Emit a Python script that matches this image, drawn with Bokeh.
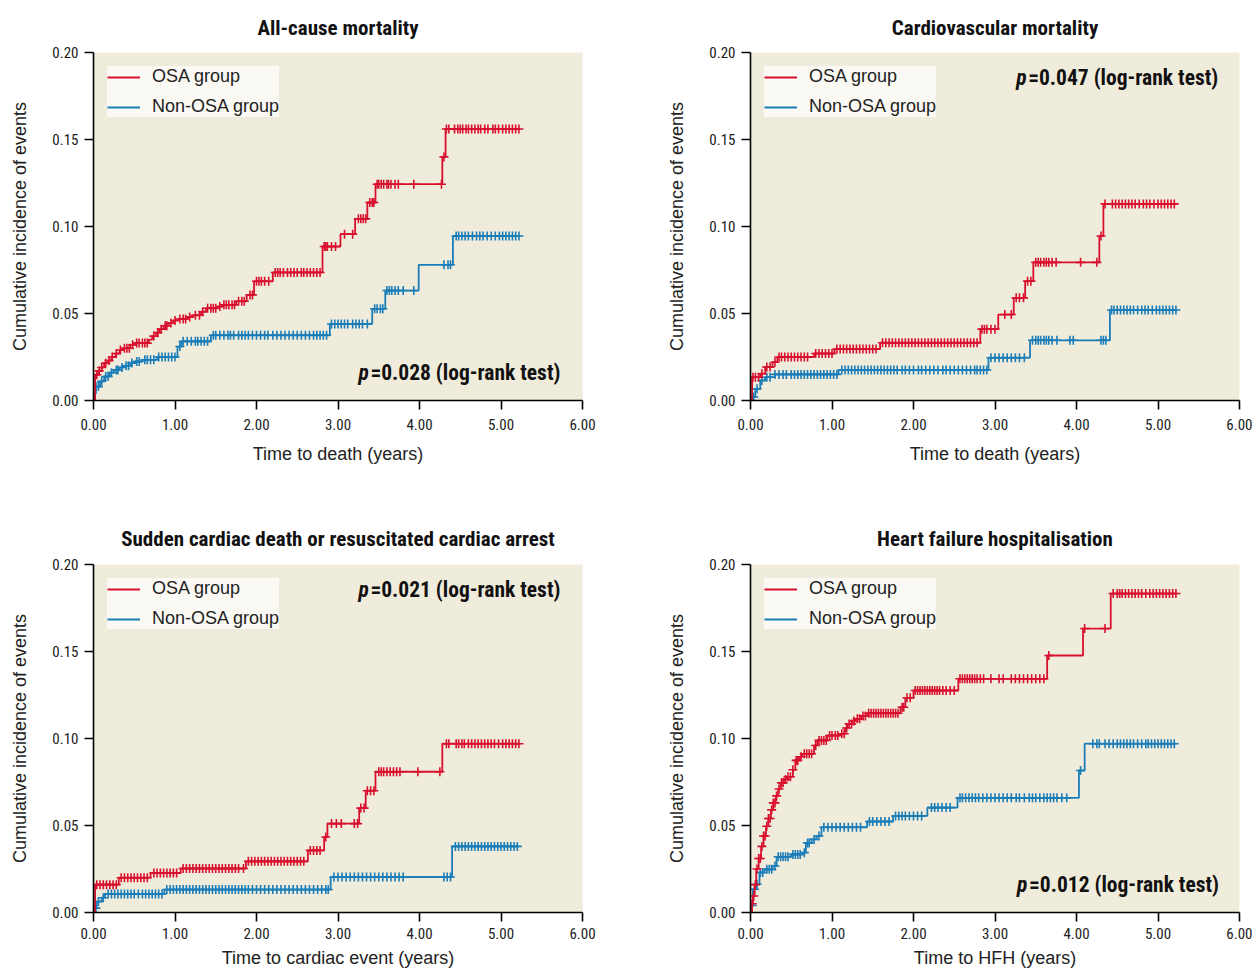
import numpy as np
from bokeh.plotting import figure
from bokeh.models import Range1d, FixedTicker, NumeralTickFormatter, Legend, LegendItem, Label
from bokeh.layouts import column, row
from bokeh.embed import file_html
from bokeh.resources import INLINE

# ---------------- DATA ----------------
titles = ["All-cause mortality", "Cardiovascular mortality",
          "Sudden cardiac death or resuscitated cardiac arrest", "Heart failure hospitalisation"]
xlabels = ["Time to death (years)", "Time to death (years)",
           "Time to cardiac event (years)", "Time to HFH (years)"]
ylabel = "Cumulative incidence of events"
series_names = ["OSA group", "Non-OSA group"]
pvalues = ["=0.028 (log-rank test)", "=0.047 (log-rank test)",
           "=0.021 (log-rank test)", "=0.012 (log-rank test)"]
x_ticks = [0, 1, 2, 3, 4, 5, 6]
y_ticks = [0.0, 0.05, 0.10, 0.15, 0.20]

# All-cause mortality
acm_osa_t = [0, 0.02, 0.06, 0.10, 0.13, 0.18, 0.22, 0.27, 0.32, 0.37, 0.45, 0.52, 0.68, 0.72, 0.77, 0.81, 0.86,
             0.92, 0.98, 1.04, 1.15, 1.22, 1.32, 1.38, 1.52, 1.58, 1.75, 1.88, 1.97, 2.20, 2.81, 3.03, 3.21,
             3.36, 3.46, 4.28, 4.32, 5.22]
acm_osa_v = [0, 0.0148, 0.017, 0.019, 0.0215, 0.023, 0.025, 0.027, 0.029, 0.030, 0.032, 0.033, 0.035, 0.037,
             0.039, 0.041, 0.043, 0.0445, 0.046, 0.0468, 0.048, 0.049, 0.051, 0.053, 0.054, 0.055, 0.057, 0.0607,
             0.0685, 0.0736, 0.0885, 0.0956, 0.1044, 0.1138, 0.1243, 0.140, 0.156, 0.156]
acm_osa_c = [0.04, 0.07, 0.1, 0.15, 0.19, 0.23, 0.28, 0.33, 0.38, 0.41, 0.44, 0.48, 0.53, 0.56, 0.6, 0.63, 0.66,
             0.74, 0.79, 0.83, 0.88, 0.9, 0.95, 1.0, 1.06, 1.1, 1.13, 1.18, 1.25, 1.3, 1.34, 1.4, 1.44, 1.47, 1.5,
             1.55, 1.6, 1.63, 1.66, 1.7, 1.73, 1.78, 1.82, 1.85, 1.92, 1.95, 2.0, 2.03, 2.06, 2.1, 2.15, 2.23,
             2.26, 2.29, 2.33, 2.38, 2.42, 2.46, 2.5, 2.55, 2.58, 2.62, 2.66, 2.7, 2.74, 2.78, 2.83, 2.85, 2.87,
             2.92, 2.97, 3.08, 3.18, 3.25, 3.28, 3.31, 3.34, 3.39, 3.42, 3.44, 3.48, 3.5, 3.53, 3.56, 3.6, 3.62,
             3.65, 3.7, 3.74, 3.93, 4.27, 4.3, 4.33, 4.36, 4.43, 4.47, 4.5, 4.53, 4.57, 4.6, 4.64, 4.68, 4.72,
             4.75, 4.8, 4.84, 4.9, 4.93, 4.97, 5.02, 5.06, 5.1, 5.14, 5.18, 5.22]
acm_non_t = [0, 0.01, 0.03, 0.08, 0.13, 0.20, 0.25, 0.32, 0.37, 0.45, 0.50, 0.60, 0.78, 1.03, 1.08, 1.44, 2.90,
             3.42, 3.58, 3.99, 4.41, 5.22]
acm_non_v = [0, 0.004, 0.008, 0.011, 0.0138, 0.016, 0.0176, 0.019, 0.020, 0.0215, 0.0224, 0.0234, 0.025, 0.031,
             0.034, 0.0375, 0.044, 0.0527, 0.0632, 0.078, 0.0945, 0.0945]
acm_non_c = [0.03, 0.06, 0.1, 0.15, 0.18, 0.22, 0.28, 0.3, 0.35, 0.4, 0.43, 0.47, 0.53, 0.56, 0.63, 0.66, 0.7,
             0.74, 0.8, 0.84, 0.88, 0.92, 0.96, 1.0, 1.06, 1.1, 1.15, 1.2, 1.25, 1.28, 1.32, 1.36, 1.4, 1.47, 1.5,
             1.55, 1.6, 1.65, 1.68, 1.72, 1.78, 1.82, 1.86, 1.9, 1.95, 2.0, 2.05, 2.1, 2.14, 2.2, 2.25, 2.3, 2.35,
             2.4, 2.45, 2.5, 2.55, 2.6, 2.65, 2.7, 2.74, 2.78, 2.82, 2.86, 2.92, 2.96, 3.0, 3.04, 3.08, 3.12, 3.18,
             3.22, 3.26, 3.3, 3.36, 3.45, 3.48, 3.52, 3.55, 3.6, 3.63, 3.66, 3.7, 3.74, 3.8, 3.93, 4.3, 4.35, 4.38,
             4.45, 4.48, 4.52, 4.56, 4.6, 4.65, 4.7, 4.74, 4.78, 4.83, 4.88, 4.93, 4.98, 5.02, 5.06, 5.1, 5.14,
             5.18, 5.22]

# Cardiovascular mortality
cvm_osa_t = [0, 0.02, 0.12, 0.18, 0.27, 0.33, 0.78, 1.03, 1.59, 2.82, 3.04, 3.23, 3.37, 3.47, 4.28, 4.33, 5.23]
cvm_osa_v = [0, 0.0134, 0.0154, 0.0192, 0.022, 0.025, 0.027, 0.0296, 0.0332, 0.041, 0.0494, 0.059, 0.0686,
             0.0794, 0.0945, 0.113, 0.113]
cvm_osa_c = [0.03, 0.06, 0.1, 0.14, 0.2, 0.24, 0.3, 0.35, 0.38, 0.42, 0.46, 0.5, 0.54, 0.58, 0.62, 0.66, 0.7,
             0.8, 0.84, 0.88, 0.92, 0.96, 1.0, 1.06, 1.1, 1.14, 1.18, 1.22, 1.26, 1.3, 1.34, 1.38, 1.42, 1.46, 1.5,
             1.54, 1.62, 1.66, 1.7, 1.74, 1.78, 1.82, 1.86, 1.9, 1.94, 1.98, 2.02, 2.06, 2.1, 2.14, 2.18, 2.22,
             2.26, 2.3, 2.34, 2.38, 2.42, 2.46, 2.5, 2.54, 2.58, 2.62, 2.66, 2.7, 2.74, 2.78, 2.84, 2.87, 2.9,
             2.95, 3.0, 3.12, 3.2, 3.26, 3.3, 3.35, 3.4, 3.44, 3.5, 3.53, 3.56, 3.6, 3.63, 3.66, 3.7, 3.75, 4.05,
             4.25, 4.3, 4.35, 4.44, 4.48, 4.52, 4.56, 4.6, 4.64, 4.68, 4.72, 4.77, 4.82, 4.86, 4.9, 4.95, 5.0,
             5.04, 5.08, 5.12, 5.16, 5.2]
cvm_non_t = [0, 0.02, 0.06, 0.12, 0.18, 0.30, 1.08, 2.92, 3.43, 4.41, 5.23]
cvm_non_v = [0, 0.002, 0.0067, 0.0115, 0.0134, 0.015, 0.0175, 0.0246, 0.0346, 0.052, 0.052]
cvm_non_c = [0.04, 0.08, 0.14, 0.2, 0.24, 0.3, 0.35, 0.4, 0.44, 0.5, 0.54, 0.58, 0.62, 0.66, 0.7, 0.74, 0.78,
             0.82, 0.86, 0.9, 0.94, 0.98, 1.02, 1.06, 1.12, 1.16, 1.2, 1.24, 1.28, 1.32, 1.36, 1.4, 1.44, 1.48,
             1.52, 1.56, 1.6, 1.64, 1.68, 1.72, 1.76, 1.8, 1.86, 1.9, 1.95, 2.0, 2.06, 2.1, 2.15, 2.2, 2.25, 2.3,
             2.36, 2.4, 2.45, 2.5, 2.55, 2.6, 2.65, 2.7, 2.75, 2.78, 2.82, 2.86, 2.9, 2.95, 3.0, 3.05, 3.1, 3.15,
             3.2, 3.25, 3.3, 3.36, 3.46, 3.5, 3.53, 3.56, 3.6, 3.63, 3.66, 3.7, 3.76, 3.92, 3.96, 4.3, 4.33, 4.36,
             4.43, 4.46, 4.5, 4.54, 4.58, 4.62, 4.66, 4.7, 4.75, 4.8, 4.84, 4.88, 4.93, 4.98, 5.02, 5.06, 5.1,
             5.14, 5.18, 5.22]

# Sudden cardiac death or resuscitated cardiac arrest
scd_osa_t = [0, 0.02, 0.31, 0.70, 1.07, 1.87, 2.63, 2.83, 2.87, 3.26, 3.34, 3.46, 4.28, 5.22]
scd_osa_v = [0, 0.016, 0.020, 0.0227, 0.0253, 0.0294, 0.0357, 0.0434, 0.0511, 0.060, 0.070, 0.0809, 0.097, 0.097]
scd_osa_c = [0.04, 0.08, 0.12, 0.16, 0.2, 0.24, 0.28, 0.34, 0.38, 0.42, 0.46, 0.5, 0.54, 0.58, 0.62, 0.66, 0.74,
             0.78, 0.82, 0.86, 0.9, 0.94, 0.98, 1.02, 1.1, 1.14, 1.18, 1.22, 1.26, 1.3, 1.34, 1.38, 1.42, 1.46,
             1.5, 1.54, 1.58, 1.62, 1.66, 1.7, 1.74, 1.78, 1.84, 1.9, 1.94, 1.98, 2.02, 2.06, 2.1, 2.14, 2.18,
             2.22, 2.26, 2.3, 2.34, 2.38, 2.42, 2.46, 2.5, 2.54, 2.58, 2.66, 2.7, 2.74, 2.78, 2.85, 2.92, 2.98,
             3.04, 3.2, 3.24, 3.28, 3.32, 3.36, 3.4, 3.44, 3.5, 3.53, 3.56, 3.6, 3.64, 3.68, 3.72, 3.76, 3.98,
             4.25, 4.33, 4.36, 4.45, 4.48, 4.52, 4.55, 4.6, 4.64, 4.68, 4.72, 4.76, 4.8, 4.84, 4.88, 4.92, 4.97,
             5.02, 5.06, 5.1, 5.14, 5.18, 5.22]
scd_non_t = [0, 0.02, 0.04, 0.10, 0.14, 0.87, 2.91, 4.40, 5.22]
scd_non_v = [0, 0.0025, 0.0063, 0.0085, 0.0107, 0.0132, 0.0204, 0.038, 0.038]
scd_non_c = [0.03, 0.06, 0.12, 0.18, 0.22, 0.26, 0.3, 0.34, 0.38, 0.42, 0.46, 0.5, 0.55, 0.6, 0.64, 0.68, 0.72,
             0.76, 0.8, 0.84, 0.9, 0.94, 0.98, 1.02, 1.06, 1.1, 1.14, 1.18, 1.22, 1.26, 1.3, 1.34, 1.38, 1.42,
             1.46, 1.5, 1.54, 1.58, 1.62, 1.66, 1.7, 1.74, 1.78, 1.82, 1.86, 1.9, 1.95, 2.0, 2.05, 2.1, 2.15, 2.2,
             2.25, 2.3, 2.35, 2.4, 2.45, 2.5, 2.55, 2.6, 2.65, 2.7, 2.75, 2.8, 2.85, 2.88, 2.95, 3.0, 3.05, 3.1,
             3.15, 3.2, 3.25, 3.3, 3.35, 3.4, 3.45, 3.5, 3.55, 3.6, 3.65, 3.7, 3.75, 3.8, 4.3, 4.34, 4.38, 4.44,
             4.48, 4.52, 4.56, 4.6, 4.64, 4.68, 4.72, 4.76, 4.8, 4.84, 4.88, 4.92, 4.96, 5.0, 5.04, 5.08, 5.12,
             5.16, 5.2]

# Heart failure hospitalisation
hfh_osa_t = [0, 0.02, 0.03, 0.05, 0.07, 0.10, 0.13, 0.16, 0.19, 0.22, 0.25, 0.28, 0.31, 0.34, 0.37, 0.41, 0.45,
             0.52, 0.55, 0.60, 0.63, 0.78, 0.82, 0.94, 1.10, 1.16, 1.19, 1.25, 1.29, 1.36, 1.43, 1.84, 1.90, 2.00,
             2.55, 3.64, 4.08, 4.42, 5.22]
hfh_osa_v = [0, 0.005, 0.0095, 0.016, 0.025, 0.031, 0.038, 0.044, 0.0496, 0.054, 0.059, 0.063, 0.067, 0.071,
             0.0745, 0.0765, 0.078, 0.082, 0.0874, 0.0895, 0.0912, 0.096, 0.0989, 0.1017, 0.1027, 0.106, 0.1084,
             0.110, 0.1113, 0.113, 0.1145, 0.118, 0.1234, 0.1276, 0.1343, 0.1477, 0.1632, 0.1833, 0.1833]
hfh_osa_c = [0.02, 0.04, 0.06, 0.08, 0.1, 0.12, 0.14, 0.16, 0.18, 0.2, 0.22, 0.24, 0.26, 0.28, 0.3, 0.32, 0.35,
             0.38, 0.4, 0.43, 0.46, 0.49, 0.52, 0.56, 0.58, 0.62, 0.66, 0.69, 0.72, 0.75, 0.8, 0.84, 0.87, 0.9,
             0.93, 0.97, 1.0, 1.04, 1.07, 1.12, 1.15, 1.18, 1.21, 1.24, 1.27, 1.31, 1.34, 1.38, 1.41, 1.45, 1.48,
             1.51, 1.54, 1.57, 1.6, 1.63, 1.66, 1.69, 1.72, 1.75, 1.78, 1.81, 1.86, 1.88, 1.92, 1.96, 2.02, 2.05,
             2.08, 2.11, 2.14, 2.17, 2.2, 2.23, 2.26, 2.29, 2.32, 2.36, 2.4, 2.45, 2.5, 2.57, 2.6, 2.63, 2.66,
             2.69, 2.72, 2.75, 2.78, 2.82, 2.86, 2.95, 3.05, 3.1, 3.2, 3.25, 3.3, 3.35, 3.4, 3.45, 3.5, 3.55, 3.6,
             3.66, 4.1, 4.35, 4.45, 4.5, 4.53, 4.56, 4.6, 4.64, 4.68, 4.72, 4.76, 4.8, 4.85, 4.9, 4.94, 4.98,
             5.02, 5.06, 5.1, 5.14, 5.18, 5.22]
hfh_non_t = [0, 0.01, 0.03, 0.07, 0.11, 0.17, 0.27, 0.32, 0.50, 0.64, 0.68, 0.75, 0.81, 0.87, 1.43, 1.75, 2.17,
             2.54, 4.03, 4.10, 5.21]
hfh_non_v = [0, 0.004, 0.0134, 0.0162, 0.023, 0.0248, 0.0267, 0.032, 0.0334, 0.0344, 0.040, 0.042, 0.044, 0.049,
             0.0523, 0.0555, 0.0603, 0.0659, 0.0816, 0.097, 0.097]
hfh_non_c = [0.02, 0.05, 0.08, 0.12, 0.15, 0.2, 0.23, 0.26, 0.3, 0.34, 0.37, 0.4, 0.43, 0.46, 0.52, 0.55, 0.58,
             0.61, 0.66, 0.7, 0.72, 0.78, 0.84, 0.9, 0.95, 1.0, 1.05, 1.1, 1.15, 1.2, 1.25, 1.3, 1.35, 1.46, 1.5,
             1.55, 1.6, 1.65, 1.7, 1.78, 1.82, 1.86, 1.9, 1.95, 2.0, 2.05, 2.1, 2.22, 2.26, 2.3, 2.35, 2.4, 2.45,
             2.57, 2.6, 2.64, 2.68, 2.72, 2.76, 2.8, 2.85, 2.9, 2.95, 3.0, 3.05, 3.1, 3.15, 3.2, 3.26, 3.3, 3.36,
             3.42, 3.46, 3.5, 3.55, 3.6, 3.64, 3.68, 3.72, 3.76, 3.82, 3.88, 4.05, 4.2, 4.25, 4.28, 4.35, 4.4,
             4.45, 4.5, 4.54, 4.58, 4.62, 4.66, 4.7, 4.75, 4.8, 4.85, 4.88, 4.92, 4.96, 5.0, 5.04, 5.08, 5.12,
             5.16, 5.2]

panels = [
    (acm_osa_t, acm_osa_v, acm_osa_c, acm_non_t, acm_non_v, acm_non_c),
    (cvm_osa_t, cvm_osa_v, cvm_osa_c, cvm_non_t, cvm_non_v, cvm_non_c),
    (scd_osa_t, scd_osa_v, scd_osa_c, scd_non_t, scd_non_v, scd_non_c),
    (hfh_osa_t, hfh_osa_v, hfh_osa_c, hfh_non_t, hfh_non_v, hfh_non_c),
]
pval_pos = [(3.25, 0.016), (3.26, 0.1856), (3.25, 0.1856), (3.27, 0.016)]

# ---------------- STYLE ----------------
RED = "#d8102e"
BLUE = "#1a7db8"
BG = "#f0ecdb"
NARROW = "Roboto Condensed, Noto Sans Condensed, Roboto"
SANS = "Liberation Sans"


def step_at(t, v, c):
    t = np.asarray(t)
    v = np.asarray(v)
    idx = np.searchsorted(t, np.asarray(c), side="right") - 1
    idx = np.clip(idx, 0, len(v) - 1)
    return v[idx]


def make_fig(i, width, height, top, bottom, right, tl_standoff, al_standoff, title_standoff):
    p = figure(width=width, height=height, x_range=Range1d(0, 6), y_range=Range1d(0, 0.2),
               output_backend="svg", toolbar_location=None,
               min_border_left=93, min_border_right=right, min_border_top=top, min_border_bottom=bottom,
               background_fill_color=BG, border_fill_color="white", outline_line_color=None)
    p.grid.visible = False
    p.title.text = titles[i]
    p.title.align = "center"
    p.title.text_font = NARROW
    p.title.text_font_style = "bold"
    p.title.text_font_size = "21px"
    p.title.text_color = "#111111"
    p.title.standoff = title_standoff

    for ax in (p.xaxis[0], p.yaxis[0]):
        ax.axis_line_color = "black"
        ax.axis_line_width = 1.6
        ax.major_tick_line_color = "black"
        ax.major_tick_line_width = 1.6
        ax.major_tick_out = 9
        ax.major_tick_in = 0
        ax.minor_tick_line_color = None
        ax.major_label_text_font = NARROW
        ax.major_label_text_font_size = "15px"
        ax.major_label_text_color = "#222222"
        ax.axis_label_text_font = SANS
        ax.axis_label_text_font_size = "18px"
        ax.axis_label_text_font_style = "normal"
        ax.axis_label_text_color = "#222222"
        ax.formatter = NumeralTickFormatter(format="0.00")
    p.xaxis.ticker = FixedTicker(ticks=x_ticks)
    p.yaxis.ticker = FixedTicker(ticks=y_ticks)
    p.xaxis.axis_label = xlabels[i]
    p.yaxis.axis_label = ylabel
    p.xaxis.major_label_standoff = tl_standoff
    p.yaxis.major_label_standoff = 6
    p.xaxis.axis_label_standoff = al_standoff
    p.yaxis.axis_label_standoff = 19

    ot, ov, oc, nt, nv, nc = panels[i]
    # blue first, red on top
    b_step = p.step(x=nt, y=nv, mode="after", line_color=BLUE, line_width=1.8)
    p.scatter(x=nc, y=step_at(nt, nv, nc), marker="cross", size=9, line_color=BLUE, line_width=1.6)
    r_step = p.step(x=ot, y=ov, mode="after", line_color=RED, line_width=1.8)
    p.scatter(x=oc, y=step_at(ot, ov, oc), marker="cross", size=9, line_color=RED, line_width=1.6)

    legend = Legend(items=[LegendItem(label=series_names[0], renderers=[r_step]),
                           LegendItem(label=series_names[1], renderers=[b_step])],
                    location="top_left", margin=14, padding=8, spacing=9,
                    glyph_width=33, glyph_height=20, label_height=20, label_standoff=12,
                    label_text_font=SANS, label_text_font_size="18px", label_text_color="#222222",
                    background_fill_color="#faf9f3", background_fill_alpha=1.0,
                    border_line_color=None)
    p.add_layout(legend)

    px, py = pval_pos[i]
    p.add_layout(Label(x=px, y=py, text="p", text_font=NARROW, text_font_style="bold italic",
                       text_font_size="21.5px", text_baseline="middle", text_align="left", text_color="#111111"))
    p.add_layout(Label(x=px, y=py, x_offset=12, text=pvalues[i], text_font=NARROW, text_font_style="bold",
                       text_font_size="21.5px", text_baseline="middle", text_align="left", text_color="#111111"))
    return p


f1 = make_fig(0, 657, 467, 52, 67, 75, 9, 11, 25)
f2 = make_fig(1, 595, 467, 52, 67, 13, 9, 11, 25)
f3 = make_fig(2, 657, 506, 97, 61, 75, 6, 6, 28)
f4 = make_fig(3, 595, 506, 97, 61, 13, 6, 6, 28)

layout = column(row(f1, f2), row(f3, f4))
open("out.html", "w").write(file_html(layout, INLINE))
